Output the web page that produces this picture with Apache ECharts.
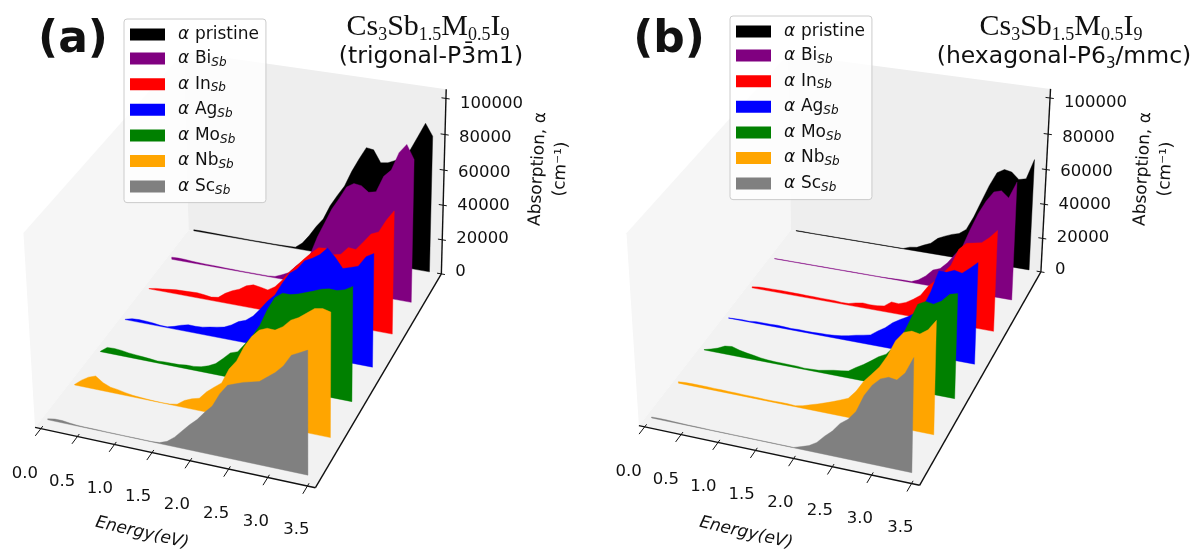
<!DOCTYPE html>
<html><head><meta charset="utf-8">
<script src="https://cdn.jsdelivr.net/npm/echarts@6/dist/echarts.min.js"></script>
<style>html,body{margin:0;padding:0;background:#fff}#c{width:1195px;height:550px}</style></head>
<body><div id="c"></div>
<script>
// ---------- data: absorption in units of 1000 cm^-1 on a common energy grid (eV)
const energies=[0.0,0.101,0.202,0.303,0.404,0.505,0.606,0.707,0.808,0.909,1.01,1.111,1.212,1.313,1.414,1.515,1.616,1.717,1.818,1.919,2.02,2.121,2.222,2.323,2.424,2.525,2.626,2.727,2.828,2.929,3.03,3.131,3.232,3.333,3.434];
const energyTicks=[0,0.5,1,1.5,2,2.5,3,3.5];
const energyTickLabels=['0.0','0.5','1.0','1.5','2.0','2.5','3.0','3.5'];
const alphaTicks=[0,20000,40000,60000,80000,100000];
const alphaTickLabels=['0','20000','40000','60000','80000','100000'];
const seriesNames=['pristine','Bi','In','Ag','Mo','Nb','Sc'];
const seriesColors=['#000000','#800080','#ff0000','#0000ff','#008000','#ffa500','#808080'];
// correction of the pixel readings for the foreshortening of each slice
const readingGain=[1.02,1.03,1.04,1.05,1.05,1.06,1.07];

const a_pristine=[.6,.7,.6,.6,.5,.5,.5,.5,.4,.4,.4,.4,.4,.5,.6,.8,3.9,9,15,20,28.5,35,41,50,57.6,64.6,64,57.4,58,60,63,67,75,83,76.5];
const a_Bi=[1.2,1.4,1.3,1,.8,.7,.7,.6,.5,.5,.4,.4,.4,.4,.4,.8,2.5,4.5,9,12.5,17,27.5,36,44.5,51,58,60.5,60,57,58,67,71,81,86,78.6];
const a_In=[.2,1,1.4,1.9,2.4,2.5,2.7,2.9,2.5,1.9,2.5,5.5,7.7,9.3,11.9,13.2,12.6,11.8,14.3,18.7,23.9,28,32.4,36.5,40,40.4,37.6,38.5,42.9,42.5,47.3,52.2,54,61,66.5];
const a_Ag=[.2,1.3,1.5,1.4,1.1,.6,.5,1.5,2.9,3.9,3.8,4.1,4.9,5.6,6.4,8.3,10.9,12.4,15.4,20,25,29,36,42,45,50,52,54.6,58.7,54.6,49.4,50.7,52,57.7,60];
const a_Mo=[.2,3.1,3.3,3,2.4,2.1,1.8,1.5,1.1,1.4,1.4,1.5,2,2.1,2.7,4,6,9.5,13.3,14.7,19.7,24.7,31,40,47,50,50,51,52.5,54,55.7,56.6,56.4,57.6,60];
const a_Nb=[.3,3.4,5.8,7.2,4.4,2.8,2.3,1.5,.9,.6,.4,.2,.2,.3,1,3.8,5.5,6.6,10.8,14,17,25,30,38,44,48,49.7,49.5,52,56,58,61,64,64.7,63.7];
const a_Sc=[.5,1.2,1.2,.7,.4,.3,.3,.3,.2,.2,.2,.2,.2,.2,.2,.5,2,5,9,13,16.5,21,25,32,37,38.5,40,41,42,45,48,52,58,60,62];

const b_pristine=[.3,.3,.2,.2,.2,.2,.2,.2,.2,.2,.2,.2,.2,.2,.2,.2,.2,1.7,2.3,4.3,6.1,9.7,11.7,13.4,14.6,17.7,25.7,35.4,45,53,55.4,54.6,51,52,63.4];
const b_Bi=[.2,.2,.2,.2,.2,.2,.2,.2,.2,.2,.2,.2,.2,.2,.2,.2,.2,.3,.5,.6,.6,2.3,5.3,9.4,11,15,20.5,25.6,36,45.5,53,58.8,60,56.7,66];
const b_In=[.6,1.2,1.3,1.4,1.5,1.5,1.4,1.4,1.3,1.3,1.2,1.2,1.2,.9,1,2.1,2.8,2.5,2.7,3.3,6.3,6,7.5,10,13,18.7,22.7,27.5,32.4,42,45.9,46.7,47.6,51,55.5];
const b_Ag=[.2,.4,.6,.5,1,1,1,1.2,1,.8,1,.9,.9,1.1,1.2,1.5,2,2.8,3.8,4.6,5.5,8.4,11,14.5,17,19.2,22,26,35,46.8,46.7,48.5,47.6,51,54.6];
const b_Mo=[.2,1.3,2.6,4.5,5,3.8,3,2.4,1.7,1.3,1.1,1.1,1,1,.7,.9,1.1,1.9,2.7,3.2,3.9,6.6,9,11.8,14.8,17,21.7,27.8,37,46.5,48.7,48,50.3,54.5,55.6];
const b_Nb=[.8,1.1,1.2,1.2,1.2,1.1,1.1,1,1,.9,.9,.8,.7,.7,.8,.8,.6,1.4,2.7,4,5.4,6.9,8.6,10.3,14.8,20.9,25.4,30,36.5,45,50,51.4,50.7,53.5,59];
const b_Sc=[.5,.6,.6,.5,.4,.3,.3,.3,.2,.2,.2,.2,.2,.2,.2,.2,.2,.2,.2,.2,1.5,2.9,5.4,9.5,13,17.8,20.8,25.6,34.5,40.5,44.4,46,45.4,49.7,58];

const panelA=[a_pristine,a_Bi,a_In,a_Ag,a_Mo,a_Nb,a_Sc];
const panelB=[b_pristine,b_Bi,b_In,b_Ag,b_Mo,b_Nb,b_Sc];

// ---------- 3D box limits and its on-screen corners (camera calibration)
const energyLim=[-0.08,3.6], depthLim=[-0.25,6.0], alphaLim=[0,105000];
const cornersA={FL:[33,428],FR:[315,488],BR:[440,273],BL:[192,230],BRt:[448,90],BLt:[180,52],FLt:[26,232]};
const cornersB={FL:[638,427],FR:[919,485],BR:[1040,272],BL:[793,229],BRt:[1052,89],BLt:[785,55],FLt:[628,232]};

function solve(A,b){const n=b.length;const M=A.map((r,i)=>r.concat(b[i]));
  for(let c=0;c<n;c++){let p=c;for(let r=c+1;r<n;r++)if(Math.abs(M[r][c])>Math.abs(M[p][c]))p=r;
    [M[c],M[p]]=[M[p],M[c]];
    for(let r=0;r<n;r++){if(r===c)continue;const f=M[r][c]/M[c][c];for(let k=c;k<=n;k++)M[r][k]-=f*M[c][k];}}
  return M.map((r,i)=>r[n]/r[i]);}
function camera(c){
  const pairs=[[[0,0,0],c.FL],[[1,0,0],c.FR],[[1,1,0],c.BR],[[0,1,0],c.BL],[[1,1,1],c.BRt],[[0,1,1],c.BLt],[[0,0,1],c.FLt]];
  const rows=[],rhs=[];
  pairs.forEach(([w,s])=>{const [x,y,z]=w,[u,v]=s;
    rows.push([x,y,z,1,0,0,0,0,-u*x,-u*y,-u*z]);rhs.push(u);
    rows.push([0,0,0,0,x,y,z,1,-v*x,-v*y,-v*z]);rhs.push(v);});
  const N=Array.from({length:11},()=>Array(11).fill(0)),t=Array(11).fill(0);
  rows.forEach((r,i)=>{for(let a=0;a<11;a++){t[a]+=r[a]*rhs[i];for(let b=0;b<11;b++)N[a][b]+=r[a]*r[b];}});
  const p=solve(N,t);
  return (x,y,z)=>{const w=p[8]*x+p[9]*y+p[10]*z+1;
    return [(p[0]*x+p[1]*y+p[2]*z+p[3])/w,(p[4]*x+p[5]*y+p[6]*z+p[7])/w];};
}
function frac(v,l){return (v-l[0])/(l[1]-l[0]);}
function projector(cam){return (e,d,al)=>cam(frac(e,energyLim),frac(d,depthLim),frac(al,alphaLim));}

const series=[];
function addPanel(corners,values,tag){
  const cam=camera(corners),proj=projector(cam);
  // panes
  series.push({type:'custom',coordinateSystem:'cartesian2d',silent:true,z:1,data:[0],clip:false,
    renderItem:(p,api)=>{
      const q=(x,y,z)=>api.coord(cam(x,y,z));
      const poly=(pts,fill)=>({type:'polygon',shape:{points:pts},style:{fill}});
      return {type:'group',children:[
        poly([q(0,0,0),q(0,1,0),q(0,1,1),q(0,0,1)],'#f6f6f6'),
        poly([q(0,1,0),q(1,1,0),q(1,1,1),q(0,1,1)],'#eeeeee'),
        poly([q(0,0,0),q(1,0,0),q(1,1,0),q(0,1,0)],'#f2f2f2')]};
    }});
  // filled spectra, back to front
  seriesNames.forEach((name,i)=>{
    const vals=values[i],depth=6-i;
    series.push({name,type:'custom',coordinateSystem:'cartesian2d',z:2+i,clip:false,silent:true,
      itemStyle:{color:seriesColors[i]},
      data:energies.map((e,j)=>[e,vals[j]]),
      encode:{x:-1,y:-1},
      renderItem:(p,api)=>{
        if(p.dataIndex!==0)return null;
        const pts=[proj(energies[0],depth,0)];
        energies.forEach((e,j)=>pts.push(proj(e,depth,vals[j]*1000*readingGain[i])));
        pts.push(proj(energies[energies.length-1],depth,0));
        return {type:'polygon',shape:{points:pts.map(q=>api.coord(q))},
          style:{fill:seriesColors[i],stroke:seriesColors[i],lineWidth:0.4}};
      }});
  });
  const black={stroke:'#111',lineWidth:1.4};
  // axis lines
  series.push({type:'custom',coordinateSystem:'cartesian2d',silent:true,z:20,data:[0],clip:false,
    renderItem:(p,api)=>{
      const q=(x,y,z)=>api.coord(cam(x,y,z));
      const seg=(a,b)=>({type:'line',shape:{x1:a[0],y1:a[1],x2:b[0],y2:b[1]},style:black});
      return {type:'group',children:[seg(q(0,0,0),q(1,0,0)),seg(q(1,0,0),q(1,1,0)),seg(q(1,1,0),q(1,1,1))]};
    }});
  // energy ticks
  series.push({type:'custom',coordinateSystem:'cartesian2d',silent:true,z:20,clip:false,data:energyTicks,
    renderItem:(p,api)=>{
      const e=energyTicks[p.dataIndex];
      const a=api.coord(proj(e,depthLim[0]-0.2,0)),b=api.coord(proj(e,depthLim[0]+0.07,0));
      const c=api.coord(proj(e,depthLim[0],0));
      return {type:'group',children:[
        {type:'line',shape:{x1:a[0],y1:a[1],x2:b[0],y2:b[1]},style:{stroke:'#111',lineWidth:1}},
        {type:'text',style:{text:energyTickLabels[p.dataIndex],x:c[0]-16+1.4*e,y:c[1]+45-0.3*e,align:'center',verticalAlign:'middle',
          font:'16.5px "DejaVu Sans"',fill:'#111'}}]};
    }});
  // alpha ticks
  series.push({type:'custom',coordinateSystem:'cartesian2d',silent:true,z:20,clip:false,data:alphaTicks,
    renderItem:(p,api)=>{
      const z=alphaTicks[p.dataIndex];
      const a=api.coord(proj(energyLim[1]-0.06,depthLim[1],z)),b=api.coord(proj(energyLim[1]+0.05,depthLim[1],z));
      const c=api.coord(proj(energyLim[1],depthLim[1],z));
      return {type:'group',children:[
        {type:'line',shape:{x1:a[0],y1:a[1],x2:b[0],y2:b[1]},style:{stroke:'#111',lineWidth:1}},
        {type:'text',style:{text:alphaTickLabels[p.dataIndex],x:c[0]+14,y:c[1]-2+7*z/100000,align:'left',verticalAlign:'middle',
          font:'16.5px "DejaVu Sans"',fill:'#111'}}]};
    }});
}
addPanel(cornersA,panelA,'a');
addPanel(cornersB,panelB,'b');

const legendRich={a:{fontStyle:'italic',fontFamily:'DejaVu Sans',fontSize:17,lineHeight:20,color:'#111'},
  t:{fontFamily:'DejaVu Sans',fontSize:17,lineHeight:20,color:'#111'},
  s:{fontStyle:'italic',fontFamily:'DejaVu Sans',fontSize:12,lineHeight:20,verticalAlign:'bottom',padding:[6,0,0,0],color:'#111'}};
function legendLabel(n){return n==='pristine'?'{a|α}\u2009 {t|pristine}':'{a|α}\u2009 {t|'+n+'}{s|Sb}';}
function legendAt(left,top){return {left,top,orient:'vertical',icon:'rect',itemWidth:35,itemHeight:12,itemGap:7.1,
  padding:[7,7,6,6],backgroundColor:'rgba(255,255,255,0.8)',borderColor:'#ccc',borderWidth:1,borderRadius:3,
  selectedMode:false,data:seriesNames,formatter:legendLabel,itemStyle:{borderWidth:0},
  textStyle:{color:'#111',padding:[0,0,0,8],rich:legendRich},z:30};}

const titleRich={m:{fontFamily:'Liberation Serif',fontSize:30,lineHeight:34,color:'#111'},
  s:{fontFamily:'Liberation Serif',fontSize:18,lineHeight:34,color:'#111',verticalAlign:'bottom'},
  n:{fontFamily:'DejaVu Sans',fontSize:23.5,lineHeight:30,color:'#111'},
  u:{fontFamily:'DejaVu Sans',fontSize:15,lineHeight:30,color:'#111',verticalAlign:'bottom'}};
const formula='{m|Cs}{s|3}{m|Sb}{s|1.5}{m|M}{s|0.5}{m|I}{s|9}';
function txt(text,x,y,font,extra){return Object.assign({type:'text',z:40,x,y,silent:true,
  style:{text,x:0,y:0,align:'center',verticalAlign:'middle',font,fill:'#111',rich:titleRich}},extra||{});}
const graphics=[
  txt('(a)',73,41,'bold 44px "DejaVu Sans"'),
  txt('(b)',669,41,'bold 44px "DejaVu Sans"'),
  txt(formula,428,27,'30px "Liberation Serif"'),
  txt('{n|(trigonal-P3\u0304m1)}',431,57,'23.5px "DejaVu Sans"'),
  txt(formula,1061,27,'30px "Liberation Serif"'),
  txt('{n|(hexagonal-P6}{u|3}{n|/mmc)}',1064,57,'23.5px "DejaVu Sans"'),
  txt('Energy(eV)',142,533,'italic 17px "DejaVu Sans"',{rotation:-13*Math.PI/180}),
  txt('Energy(eV)',746,533,'italic 17px "DejaVu Sans"',{rotation:-13*Math.PI/180}),
  txt('Absorption, α',538,169,'17px "DejaVu Sans"',{rotation:87*Math.PI/180}),
  txt('(cm⁻¹)',561,169,'17px "DejaVu Sans"',{rotation:87*Math.PI/180}),
  txt('Absorption, α',1143,169,'17px "DejaVu Sans"',{rotation:87*Math.PI/180}),
  txt('(cm⁻¹)',1166,169,'17px "DejaVu Sans"',{rotation:87*Math.PI/180})
];

const chart=echarts.init(document.getElementById('c'),null,{renderer:'canvas'});
chart.setOption({animation:false,backgroundColor:'#fff',
  grid:{left:0,right:0,top:0,bottom:0,containLabel:false},
  xAxis:{type:'value',min:0,max:1195,show:false},
  yAxis:{type:'value',min:0,max:550,inverse:true,show:false},
  legend:[legendAt(124,19),legendAt(730,16)],
  series,graphic:graphics});
</script></body></html>
